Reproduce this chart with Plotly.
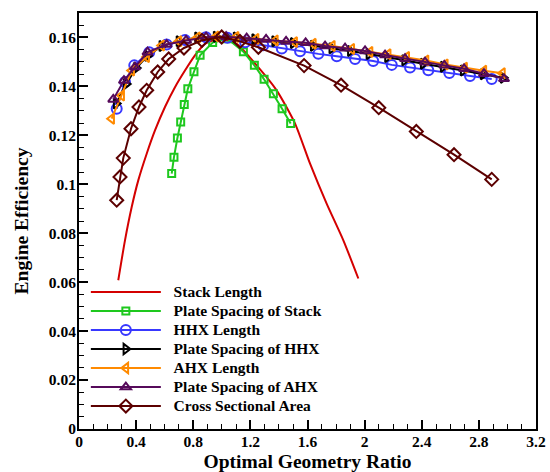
import plotly.graph_objects as go

# Engine efficiency vs. optimal geometry ratio for each optimised parameter
stack_len_x = [0.275, 0.322, 0.369, 0.415, 0.474, 0.532, 0.602, 0.672, 0.742, 0.812, 0.882, 0.99,
               1.104, 1.244, 1.384, 1.513, 1.618, 1.734, 1.851, 1.956]
stack_len_y = [0.0608, 0.0771, 0.0907, 0.1016, 0.1125, 0.122, 0.1316, 0.1397, 0.1465, 0.1527, 0.1574, 0.1595,
               0.1574, 0.1486, 0.1384, 0.1248, 0.1084, 0.0921, 0.0771, 0.0615]

stack_gap_x = [0.649, 0.665, 0.689, 0.712, 0.737, 0.762, 0.805, 0.848, 0.936, 1.04, 1.151, 1.228, 1.296, 1.361, 1.422, 1.482]
stack_gap_y = [0.1044, 0.1111, 0.1189, 0.1255, 0.1326, 0.139, 0.146, 0.1527, 0.1579, 0.1595, 0.1542, 0.1486, 0.1429, 0.137, 0.1309, 0.1248]

hhx_len_x = [0.264, 0.322, 0.387, 0.492, 0.614, 0.742, 0.889, 1.039, 1.163, 1.29, 1.42, 1.548, 1.676, 1.805, 1.933, 2.06, 2.19, 2.318, 2.446, 2.593, 2.738, 2.89]
hhx_len_y = [0.1309, 0.1418, 0.1486, 0.154, 0.1571, 0.159, 0.1601, 0.1599, 0.158, 0.1568, 0.1555, 0.1544, 0.1533, 0.1523, 0.1512, 0.1504, 0.1488, 0.1477, 0.1466, 0.1455, 0.1443, 0.143]

hhx_gap_x = [0.26, 0.33, 0.40, 0.48, 0.58, 0.70, 0.83, 0.96, 1.10, 1.23, 1.37, 1.50, 1.64, 1.77, 1.90, 2.03, 2.16, 2.28, 2.41, 2.55, 2.69, 2.83, 2.97]
hhx_gap_y = [0.133, 0.141, 0.1475, 0.1525, 0.1565, 0.1585, 0.16, 0.1603, 0.16, 0.1593, 0.1585, 0.1577, 0.1566, 0.1556, 0.1545, 0.1532, 0.152, 0.1507, 0.1493, 0.148, 0.1465, 0.145, 0.1435]

ahx_len_x = [0.229, 0.299, 0.369, 0.474, 0.579, 0.70, 0.83, 0.96, 1.10, 1.24, 1.375, 1.51, 1.641, 1.774, 1.91, 2.038, 2.165, 2.295, 2.43, 2.565, 2.70, 2.835, 2.965]
ahx_len_y = [0.1268, 0.1363, 0.1465, 0.152, 0.1567, 0.1585, 0.16, 0.1604, 0.1602, 0.1594, 0.1588, 0.1581, 0.1574, 0.1565, 0.1553, 0.1541, 0.1531, 0.152, 0.1506, 0.149, 0.1476, 0.1464, 0.1454]

ahx_gap_x = [0.24, 0.315, 0.392, 0.48, 0.614, 0.75, 0.89, 1.03, 1.174, 1.31, 1.45, 1.587, 1.723, 1.863, 2.003, 2.143, 2.283, 2.423, 2.558, 2.696, 2.836, 2.976]
ahx_gap_y = [0.1347, 0.1424, 0.1479, 0.154, 0.1571, 0.1588, 0.1601, 0.1603, 0.1597, 0.1592, 0.1584, 0.1578, 0.1565, 0.1556, 0.1545, 0.1528, 0.1513, 0.1499, 0.1486, 0.1472, 0.1452, 0.1431]

area_x = [0.264, 0.287, 0.310, 0.364, 0.420, 0.474, 0.551, 0.628, 0.735, 0.861, 0.999, 1.127, 1.256, 1.576, 1.835, 2.099, 2.362, 2.626, 2.89]
area_y = [0.0935, 0.103, 0.1107, 0.1227, 0.1316, 0.1384, 0.1459, 0.1512, 0.1557, 0.1588, 0.1602, 0.1584, 0.156, 0.1485, 0.1405, 0.1313, 0.1216, 0.1121, 0.102]

x_ticks = [0, 0.4, 0.8, 1.2, 1.6, 2, 2.4, 2.8, 3.2]
x_tick_text = ["0", "0.4", "0.8", "1.2", "1.6", "2", "2.4", "2.8", "3.2"]
y_ticks = [0, 0.02, 0.04, 0.06, 0.08, 0.1, 0.12, 0.14, 0.16]
y_tick_text = ["0", "0.02", "0.04", "0.06", "0.08", "0.1", "0.12", "0.14", "0.16"]

FONT = "Liberation Serif"
LEGEND_TEXT_PX = 15.5


def legend_label(text):
    # larger glyphs than the legend's base font, which keeps the rows compact
    return f'<span style="font-size:{LEGEND_TEXT_PX}px">\u2002{text}</span>'


fig = go.Figure()

fig.add_trace(go.Scatter(
    x=stack_len_x, y=stack_len_y, name=legend_label("Stack Length"), mode="lines",
    line=dict(color="#d40000", width=2, shape="spline", smoothing=0.6)))

series = [
    ("Plate Spacing of Stack", stack_gap_x, stack_gap_y, "#1ec81e", "square-open", 7),
    ("HHX Length", hhx_len_x, hhx_len_y, "#3838ff", "circle-open", 10),
    ("Plate Spacing of HHX", hhx_gap_x, hhx_gap_y, "#000000", "triangle-right-open", 9),
    ("AHX Length", ahx_len_x, ahx_len_y, "#ff8a00", "triangle-left-open", 9),
    ("Plate Spacing of AHX", ahx_gap_x, ahx_gap_y, "#560a5a", "triangle-up-open", 9),
    ("Cross Sectional Area", area_x, area_y, "#5c0000", "diamond-open", 10),
]
for name, xs, ys, color, symbol, size in series:
    fig.add_trace(go.Scatter(
        x=xs, y=ys, name=legend_label(name), mode="lines+markers",
        line=dict(color=color, width=2),
        marker=dict(symbol=symbol, size=size, color=color,
                    line=dict(color=color, width=2))))

axis_common = dict(
    showline=True, linecolor="black", linewidth=2, mirror=True,
    ticks="inside", ticklen=9, tickwidth=1.5, tickcolor="black",
    showgrid=False, zeroline=False, automargin=False,
    tickfont=dict(family=FONT, size=15.5, color="black", weight="bold"),
)

fig.update_xaxes(
    range=[0, 3.2], tickmode="array", tickvals=x_ticks, ticktext=x_tick_text,
    ticklabelstandoff=-3,
    minor=dict(dtick=0.1, ticks="inside", ticklen=5, tickwidth=1.2, tickcolor="black"),
    title=dict(text="Optimal Geometry Ratio", standoff=11,
               font=dict(family=FONT, size=19.5, color="black", weight="bold")),
    **axis_common)
fig.update_yaxes(
    range=[0, 0.17], tickmode="array", tickvals=y_ticks, ticktext=y_tick_text,
    ticklabelstandoff=-2,
    minor=dict(dtick=0.005, ticks="inside", ticklen=5, tickwidth=1.2, tickcolor="black"),
    title=dict(text="Engine Efficiency", standoff=15,
               font=dict(family=FONT, size=19.5, color="black", weight="bold")),
    **axis_common)

fig.update_layout(
    width=550, height=472,
    margin=dict(l=79, r=14, t=13, b=43),
    paper_bgcolor="white", plot_bgcolor="white",
    showlegend=True,
    legend=dict(
        x=0.015, y=0.364, xanchor="left", yanchor="top",
        bgcolor="rgba(0,0,0,0)", borderwidth=0,
        itemwidth=70, tracegroupgap=0,
        font=dict(family=FONT, size=12, color="black", weight="bold"),
    ),
)

fig.write_html("out.html")
